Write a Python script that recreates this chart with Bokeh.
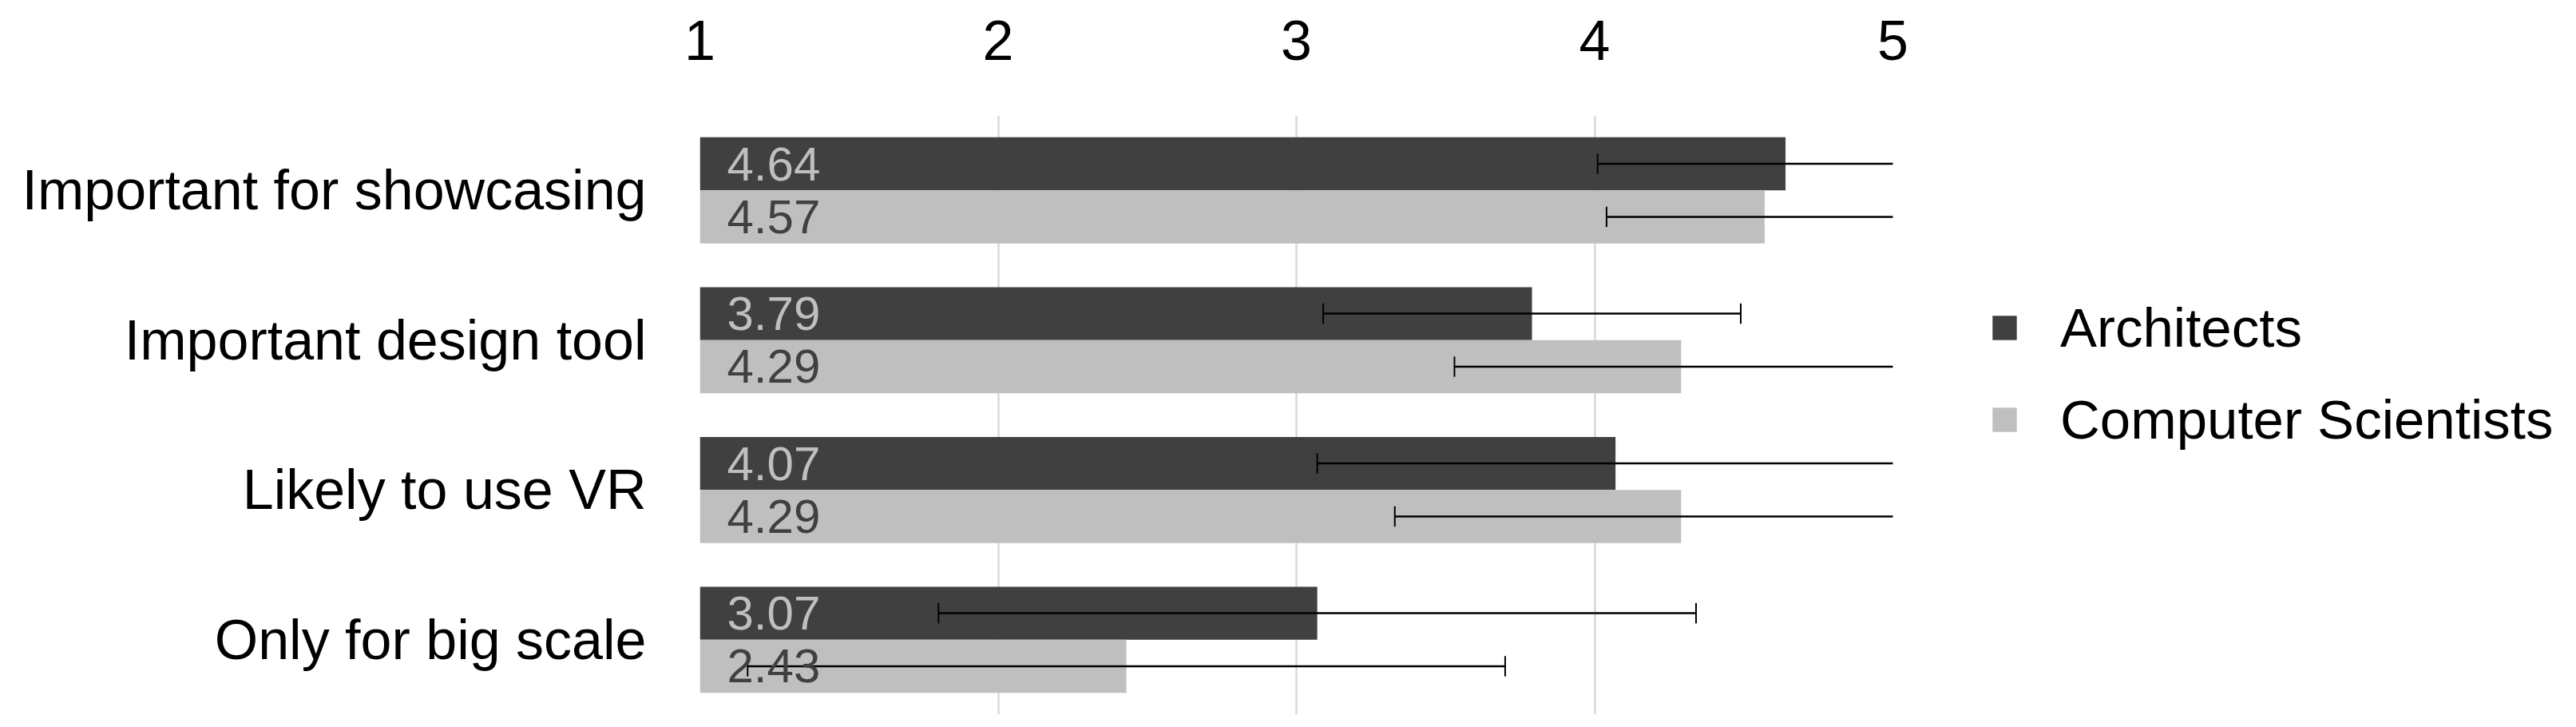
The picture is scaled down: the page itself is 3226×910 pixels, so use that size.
from bokeh.plotting import figure
from bokeh.models import ColumnDataSource, FactorRange, Range1d, FixedTicker, Legend, LegendItem
from bokeh.transform import dodge
from bokeh.core.properties import value
from bokeh.embed import file_html
from bokeh.resources import INLINE

categories = ["Important for showcasing", "Important design tool", "Likely to use VR", "Only for big scale"]
series_names = ["Architects", "Computer Scientists"]
architects = [4.64, 3.79, 4.07, 3.07]
architects_err = [0.63, 0.70, 1.00, 1.27]
scientists = [4.57, 4.29, 4.29, 2.43]
scientists_err = [0.53, 0.76, 0.96, 1.27]
x_ticks = [1, 2, 3, 4, 5]

XMIN, XMAX = 1, 5
FONT = "Liberation Sans"
DARK = "#404040"
LIGHT = "#bfbfbf"

def make_source(vals, errs):
    return ColumnDataSource(dict(
        cat=categories,
        val=vals,
        base=[XMIN] * len(vals),
        lower=[v - e for v, e in zip(vals, errs)],
        upper=[v + e for v, e in zip(vals, errs)],
        label=["%.2f" % v for v in vals],
    ))

src_a = make_source(architects, architects_err)
src_c = make_source(scientists, scientists_err)

p = figure(frame_width=1494, frame_height=750, output_backend="svg", toolbar_location=None,
           y_range=FactorRange(factors=list(reversed(categories))),
           x_range=Range1d(XMIN, XMAX), x_axis_location="above",
           min_border_left=876, min_border_right=0, min_border_top=144, min_border_bottom=0)
p.outline_line_color = None
p.background_fill_color = "white"

BAR_H = 0.354
OFF = BAR_H / 2
CAP = 0.068

ra = p.hbar(y=dodge("cat", OFF, range=p.y_range), left="base", right="val", height=BAR_H,
            fill_color=DARK, line_color=None, source=src_a)
rc = p.hbar(y=dodge("cat", -OFF, range=p.y_range), left="base", right="val", height=BAR_H,
            fill_color=LIGHT, line_color=None, source=src_c)

for src, off in ((src_a, OFF), (src_c, -OFF)):
    p.segment(x0="lower", x1="upper", y0=dodge("cat", off, range=p.y_range),
              y1=dodge("cat", off, range=p.y_range), line_color="black", line_width=2.5, source=src)
    for end in ("lower", "upper"):
        p.segment(x0=end, x1=end, y0=dodge("cat", off - CAP, range=p.y_range),
                  y1=dodge("cat", off + CAP, range=p.y_range), line_color="black", line_width=2, source=src)

p.text(x="base", y=dodge("cat", OFF, range=p.y_range), text="label", source=src_a,
       x_offset=34, text_baseline="middle", text_align="left", text_color=LIGHT,
       text_font=value(FONT), text_font_size="60px")
p.text(x="base", y=dodge("cat", -OFF, range=p.y_range), text="label", source=src_c,
       x_offset=34, text_baseline="middle", text_align="left", text_color=DARK,
       text_font=value(FONT), text_font_size="60px")

# axes
xa = p.xaxis[0]
xa.ticker = FixedTicker(ticks=x_ticks)
xa.axis_line_color = None
xa.major_tick_line_color = None
xa.minor_tick_line_color = None
xa.major_label_text_font = FONT
xa.major_label_text_font_size = "70px"
xa.major_label_text_color = "black"
xa.major_label_standoff = 64

ya = p.yaxis[0]
ya.axis_line_color = None
ya.major_tick_line_color = None
ya.minor_tick_line_color = None
ya.major_label_text_font = FONT
ya.major_label_text_font_size = "70px"
ya.major_label_text_color = "black"
ya.major_label_standoff = 61

p.xgrid.grid_line_color = "#d9d9d9"
p.xgrid.grid_line_width = 2.5
p.xgrid.ticker = FixedTicker(ticks=x_ticks)
p.ygrid.grid_line_color = None

legend = Legend(items=[LegendItem(label=series_names[0], renderers=[ra]),
                       LegendItem(label=series_names[1], renderers=[rc])],
                location=(121, 324), orientation="vertical",
                glyph_width=38, glyph_height=38, label_standoff=51,
                label_height=90, spacing=25, padding=0, margin=0,
                label_text_font=FONT, label_text_font_size="69px", label_text_color="black",
                border_line_color=None, background_fill_alpha=0)
p.add_layout(legend, "right")

open("out.html", "w").write(file_html(p, INLINE))
